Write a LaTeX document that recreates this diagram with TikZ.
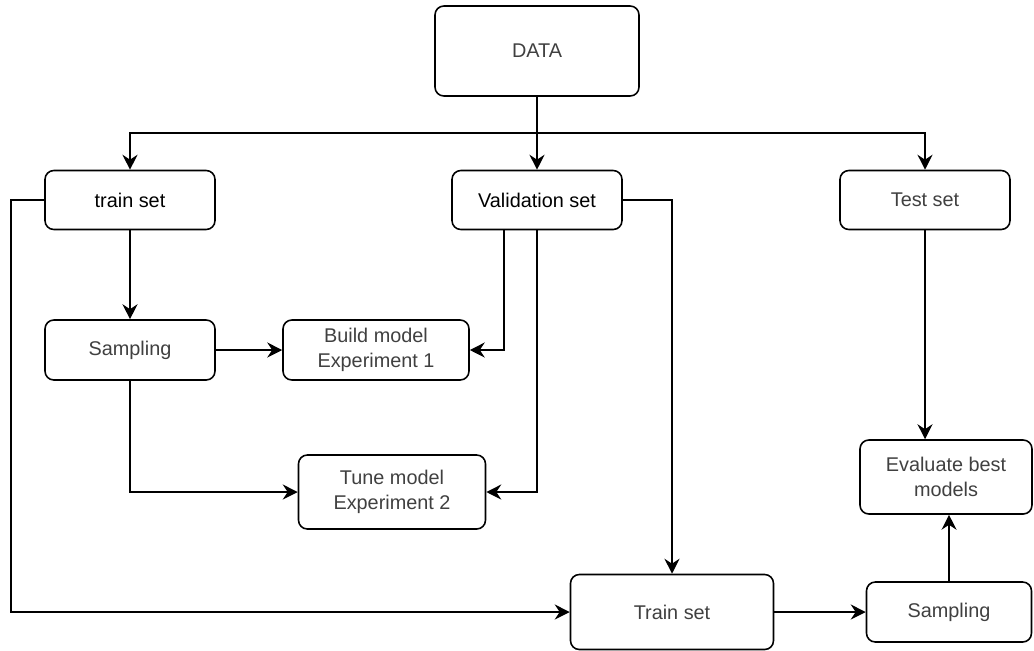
\documentclass[tikz,border=0pt]{standalone}
\usepackage{fontspec}
\setmainfont{Liberation Sans}
\usetikzlibrary{arrows.meta}
\usetikzlibrary{positioning}
\tikzset{box/.style = {draw, line width=0.9pt, rounded corners=5pt, align=center,
                       font=\fontsize{11.3}{14}\selectfont, text=black!75},
         dark/.style = {text=black},
         arr/.style = {line width=0.9pt, -{Stealth[length=8.5pt, width=8.5pt, inset=2.8pt]}}}

\begin{document}
\begin{tikzpicture}[x=0.02cm, y=-0.02cm]
    \useasboundingbox (0, 0) rectangle (1034, 650);

    \node [box, minimum width=4.08cm, minimum height=1.8cm] (data) at (537, 51) {DATA};
    \node [box, dark, minimum width=3.4cm, minimum height=1.18cm] (trainset) at (130, 200) {train set};
    \node [box, dark, minimum width=3.4cm, minimum height=1.18cm] (valset) at (537, 200) {Validation set};
    \node [box, minimum width=3.4cm, minimum height=1.18cm] (testset) at (925, 200) {Test set};
    \node [box, minimum width=3.4cm, minimum height=1.2cm] (sampling) at (130, 350) {Sampling};
    \node [box, minimum width=3.72cm, minimum height=1.2cm] (build) at (376, 350) {Build model\\Experiment 1};
    \node [box, minimum width=3.74cm, minimum height=1.48cm] (tune) at (392, 492) {Tune model\\Experiment 2};
    \node [box, minimum width=3.44cm, minimum height=1.48cm] (evaluate) at (946, 477) {Evaluate best\\models};
    \node [box, minimum width=4.06cm, minimum height=1.5cm] (trainbig) at (672, 612) {Train set};
    \node [box, minimum width=3.3cm, minimum height=1.2cm] (samplingb) at (949, 612) {Sampling};

    \coordinate (split) at (537, 133);
    \draw [arr] (data.south) -- (valset.north);
    \draw [arr] (split) -| (trainset.north);
    \draw [arr] (split) -| (testset.north);

    \draw [arr] (trainset.south) -- (sampling.north);
    \draw [arr] (trainset.west) -- ++(-33, 0) |- (trainbig.west);
    \draw [arr] (sampling.east) -- (build.west);
    \draw [arr] (sampling.south) |- (tune.west);

    \draw [arr] ([xshift=-0.66cm]valset.south) |- (build.east);
    \draw [arr] (valset.south) |- (tune.east);
    \draw [arr] (valset.east) -| (trainbig.north);

    \draw [arr] (trainbig.east) -- (samplingb.west);
    \draw [arr] (samplingb.north) -- (samplingb.north |- evaluate.south);
    \draw [arr] (testset.south) -- (testset.south |- evaluate.north);
  \end{tikzpicture}
\end{document}
